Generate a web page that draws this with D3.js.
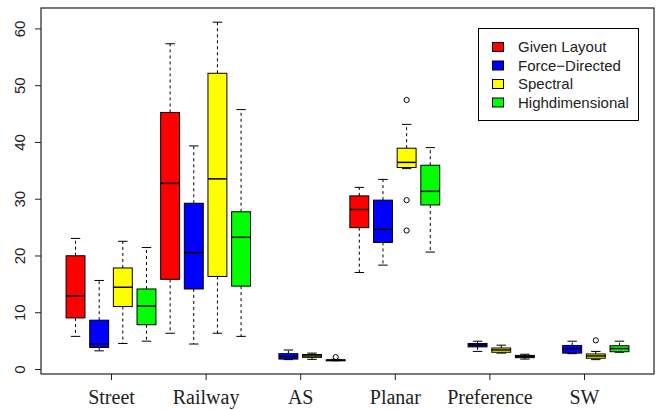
<!DOCTYPE html>
<html>
<head>
<meta charset="utf-8">
<script src="https://cdn.jsdelivr.net/npm/d3@7"></script>
<style>
  body { margin: 0; background: #fff; }
  svg { display: block; }
</style>
</head>
<body>
<div id="my_dataviz"></div>
<script>
// categories and series
var categories = ["Street", "Railway", "AS", "Planar", "Preference", "SW"];
var seriesNames = ["Given Layout", "Force\u2212Directed", "Spectral", "Highdimensional"];
var seriesColors = ["#ff0000", "#0000ff", "#ffff00", "#00ff00"];
var yTicks = [0, 10, 20, 30, 40, 50, 60];

// box stats per category: [lower whisker, q1, median, q3, upper whisker]
var givenLayout = [
  [5.75, 9.0, 12.9, 19.95, 23.0],
  [6.3, 15.8, 32.7, 45.2, 57.3],
  null,
  [17.0, 24.9, 28.1, 30.5, 32.0],
  null,
  null
];
var forceDirected = [
  [3.2, 3.8, 4.4, 8.6, 15.6],
  [4.4, 14.1, 20.5, 29.2, 39.3],
  [1.65, 1.75, 2.2, 2.7, 3.35],
  [18.3, 22.3, 24.6, 29.75, 33.4],
  [3.1, 3.9, 4.2, 4.5, 4.9],
  [2.7, 2.8, 3.6, 4.15, 4.9]
];
var spectral = [
  [4.5, 11.0, 14.4, 17.8, 22.5],
  [6.3, 16.3, 33.5, 52.1, 61.1],
  [1.7, 2.05, 2.3, 2.55, 2.8],
  [35.3, 35.5, 36.4, 38.9, 43.1],
  [2.8, 2.95, 3.35, 3.7, 4.2],
  [1.65, 1.9, 2.3, 2.65, 3.1]
];
var highdimensional = [
  [4.9, 7.8, 11.1, 14.1, 21.4],
  [5.75, 14.6, 23.2, 27.7, 45.7],
  [1.45, 1.5, 1.55, 1.62, 1.7],
  [20.6, 28.9, 31.3, 35.9, 39.0],
  [1.75, 2.0, 2.2, 2.4, 2.6],
  [2.95, 3.05, 3.6, 4.1, 4.9]
];
var seriesStats = [givenLayout, forceDirected, spectral, highdimensional];

// outliers: [category index, series index, value]
var outliers = [
  [2, 3, 2.1],
  [3, 2, 47.4],
  [3, 2, 29.75],
  [3, 2, 24.4],
  [5, 2, 5.05]
];

// flatten into boxes
var boxes = [];
categories.forEach(function(c, ci) {
  seriesStats.forEach(function(s, si) {
    var st = s[ci];
    if (st) boxes.push({pos: ci * 4 + si + 1, color: seriesColors[si],
      lo: st[0], q1: st[1], med: st[2], q3: st[3], hi: st[4]});
  });
});

// set the graph
var W = 664, H = 410;
var plot = {left: 41, right: 654, top: 8, bottom: 374};

var svg = d3.select("#my_dataviz")
  .append("svg")
    .attr("width", W)
    .attr("height", H);

var x = d3.scaleLinear()
  .domain([0.5 - 0.96, 24.5 + 0.96])
  .range([plot.left, plot.right]);

var y = d3.scaleLinear()
  .domain([-0.88, 63.6])
  .range([plot.bottom, plot.top]);

var boxW = 0.8 * (x(1) - x(0));

// boxes
var g = svg.append("g");
var b = g.selectAll("g.box")
  .data(boxes)
  .enter().append("g")
    .attr("class", "box");

// whiskers (dashed)
b.append("line")
  .attr("x1", function(d) { return x(d.pos); })
  .attr("x2", function(d) { return x(d.pos); })
  .attr("y1", function(d) { return y(d.q3); })
  .attr("y2", function(d) { return y(d.hi); })
  .attr("stroke", "#000").attr("stroke-dasharray", "3,3");
b.append("line")
  .attr("x1", function(d) { return x(d.pos); })
  .attr("x2", function(d) { return x(d.pos); })
  .attr("y1", function(d) { return y(d.q1); })
  .attr("y2", function(d) { return y(d.lo); })
  .attr("stroke", "#000").attr("stroke-dasharray", "3,3");
// caps
["hi", "lo"].forEach(function(k) {
  b.append("line")
    .attr("x1", function(d) { return x(d.pos) - boxW / 4; })
    .attr("x2", function(d) { return x(d.pos) + boxW / 4; })
    .attr("y1", function(d) { return y(d[k]); })
    .attr("y2", function(d) { return y(d[k]); })
    .attr("stroke", "#000");
});
// box
b.append("rect")
  .attr("x", function(d) { return x(d.pos) - boxW / 2; })
  .attr("y", function(d) { return y(d.q3); })
  .attr("width", boxW)
  .attr("height", function(d) { return Math.max(1, y(d.q1) - y(d.q3)); })
  .attr("fill", function(d) { return d.color; })
  .attr("stroke", "#000");
// median
b.append("line")
  .attr("x1", function(d) { return x(d.pos) - boxW / 2; })
  .attr("x2", function(d) { return x(d.pos) + boxW / 2; })
  .attr("y1", function(d) { return y(d.med); })
  .attr("y2", function(d) { return y(d.med); })
  .attr("stroke", "#000").attr("stroke-width", 1.5);

// outliers
g.selectAll("circle.out")
  .data(outliers)
  .enter().append("circle")
    .attr("class", "out")
    .attr("cx", function(d) { return x(d[0] * 4 + d[1] + 1); })
    .attr("cy", function(d) { return y(d[2]); })
    .attr("r", 2.6)
    .attr("fill", "none")
    .attr("stroke", "#000");

// frame
svg.append("rect")
  .attr("x", plot.left).attr("y", plot.top)
  .attr("width", plot.right - plot.left)
  .attr("height", plot.bottom - plot.top)
  .attr("fill", "none").attr("stroke", "#222").attr("stroke-width", 1.2);

// Y axis
var yAxis = svg.append("g")
  .attr("transform", "translate(" + plot.left + ",0)")
  .call(d3.axisLeft(y).tickValues(yTicks).tickSize(6).tickFormat(d3.format("d")));
yAxis.select(".domain").remove();
yAxis.selectAll("line").attr("stroke", "#222");
yAxis.selectAll("text")
  .attr("x", 0).attr("y", 0).attr("dy", 0)
  .attr("transform", "translate(-16,0) rotate(-90)")
  .attr("text-anchor", "middle")
  .attr("fill", "#222")
  .style("font-family", "'Liberation Sans', Arial, sans-serif")
  .style("font-size", "15px");

// X axis
var xAxis = svg.append("g")
  .attr("transform", "translate(0," + plot.bottom + ")")
  .call(d3.axisBottom(x)
    .tickValues(categories.map(function(c, i) { return i * 4 + 2.5; }))
    .tickSize(6)
    .tickFormat(function(d, i) { return categories[i]; }));
xAxis.select(".domain").remove();
xAxis.selectAll("line").attr("stroke", "#222");
xAxis.selectAll("text")
  .attr("y", 30).attr("dy", 0)
  .attr("fill", "#222")
  .style("font-family", "'Liberation Serif', 'Times New Roman', serif")
  .style("font-size", "20px");

// legend
var leg = svg.append("g");
leg.append("rect")
  .attr("x", 478.5).attr("y", 28.5)
  .attr("width", 160).attr("height", 92)
  .attr("fill", "#fff").attr("stroke", "#000");
var li = leg.selectAll("g.item")
  .data(seriesNames)
  .enter().append("g")
    .attr("transform", function(d, i) { return "translate(0," + (47 + i * 18.5) + ")"; });
li.append("rect")
  .attr("x", 492.5).attr("y", -4.5)
  .attr("width", 11).attr("height", 9)
  .attr("fill", function(d, i) { return seriesColors[i]; })
  .attr("stroke", "#000");
li.append("text")
  .attr("x", 518).attr("y", 0).attr("dy", "0.36em")
  .attr("fill", "#222")
  .style("font-family", "'Liberation Sans', Arial, sans-serif")
  .style("font-size", "15px")
  .text(function(d) { return d; });
</script>
</body>
</html>
